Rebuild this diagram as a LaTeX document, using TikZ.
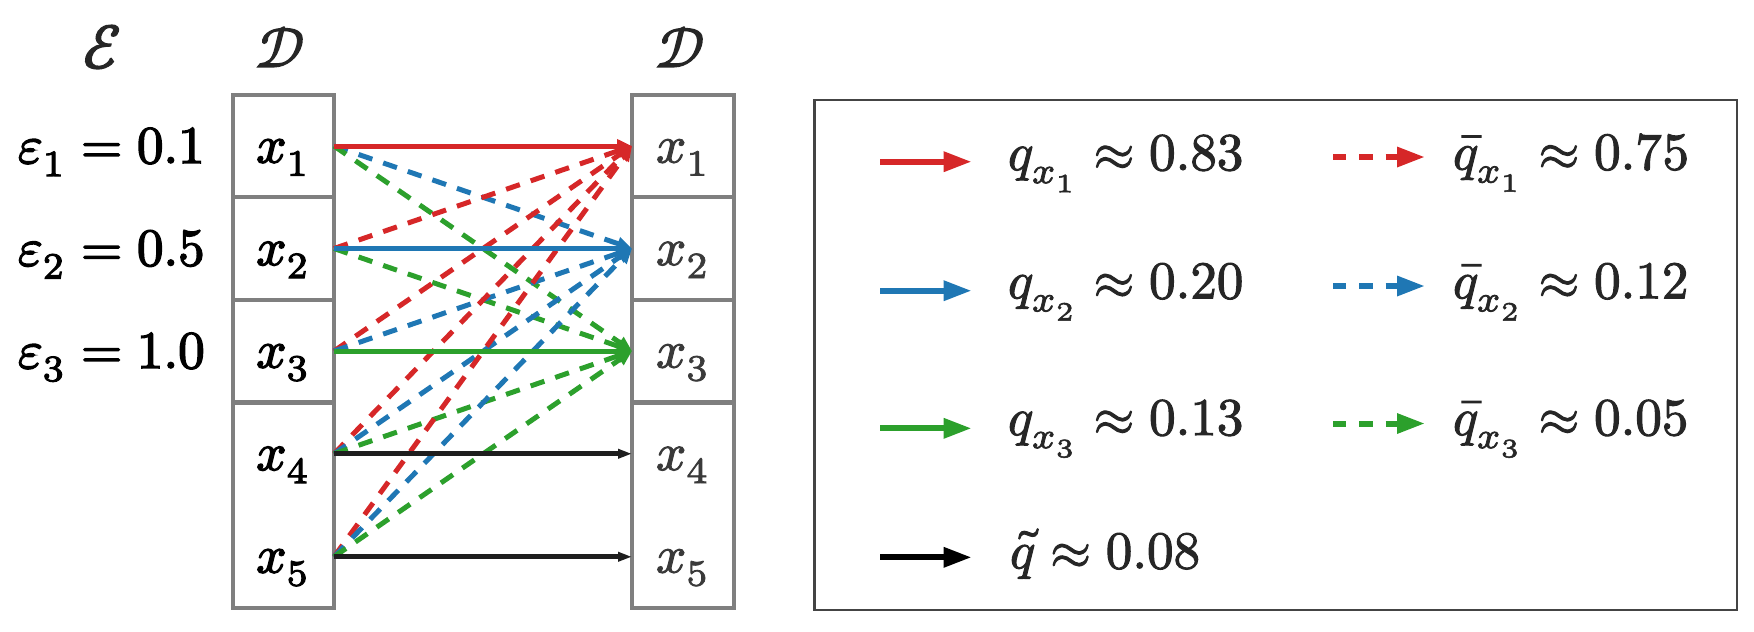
\documentclass[tikz,border=0pt]{standalone}
\usepackage{unicode-math}
\setmathfont{Latin Modern Math}[FakeBold=2.0]
\setmathfont{Latin Modern Math}[version=heavy,FakeBold=2.8]
\usetikzlibrary{arrows.meta}
\definecolor{tabred}{HTML}{D62728}
\definecolor{tabblue}{HTML}{1F77B4}
\definecolor{tabgreen}{HTML}{2CA02C}
\definecolor{boxgray}{HTML}{7F7F7F}
\definecolor{legframe}{HTML}{444444}
\definecolor{txtdark}{HTML}{262626}
\definecolor{txtmid}{HTML}{3A3A3A}
\definecolor{arrblack}{HTML}{1E1E1E}
\tikzset{
  lbl/.style={font=\fontsize{10.6pt}{13pt}\selectfont, inner sep=0pt, outer sep=0pt},
  hlbl/.style={font=\fontsize{10.6pt}{13pt}\selectfont\mathversion{heavy}, inner sep=0pt, outer sep=0pt},
  cell/.style={draw=boxgray, line width=0.8pt, inner sep=0pt, outer sep=0pt,
    minimum width=20.3pt, minimum height=20.5pt},
  cellR/.style={cell, minimum width=20.4pt},
  solidc/.style={line width=1pt, -{Triangle[length=3pt,width=2.6pt]}},
  dashc/.style={line width=1pt, dash pattern=on 2.9pt off 2.3pt, -{Triangle[length=3pt,width=2.6pt]}},
  blackc/.style={line width=1pt, draw=arrblack, -{Triangle[length=2.8pt,width=1.8pt]}},
  legsolid/.style={line width=1.2pt, -{Triangle[length=5.6pt,width=3.8pt]}},
  legdash/.style={legsolid, dash pattern=on 2.67pt off 2.6pt},
}
\begin{document}
\begin{tikzpicture}[x=0.2pt,y=-0.2pt]
\useasboundingbox (0,0) rectangle (1754,631);
% headers
\node[hlbl, text=txtdark, scale=1.15] (hE) at (102,47) {$\mathcal{E}$};
\node[hlbl, text=txtdark, scale=1.05] (hD1) at (280,47) {$\mathcal{D}$};
\node[hlbl, text=txtdark, scale=1.05] (hD2) at (680,47) {$\mathcal{D}$};
% epsilon labels
\node[hlbl, anchor=base west] (e1) at (18,163) {$\varepsilon_1 = 0.1$};
\node[hlbl, anchor=base west] (e2) at (18,265.5) {$\varepsilon_2 = 0.5$};
\node[hlbl, anchor=base west] (e3) at (18,368) {$\varepsilon_3 = 1.0$};
% left cells
\node[cell] (L1) at (283.25,146) {};
\node[cell] (L2) at (283.25,248.5) {};
\node[cell] (L3) at (283.25,351) {};
\node[cell, minimum height=41.1pt] (L45) at (283.25,505.25) {};
% right cells
\node[cellR] (R1) at (683,146) {};
\node[cellR] (R2) at (683,248.5) {};
\node[cellR] (R3) at (683,351) {};
\node[cellR, minimum height=41.1pt] (R45) at (683,505.25) {};
% cell labels
\foreach \i/\y in {1/162.5,2/265,3/367.5,4/470,5/572.5}{
  \node[hlbl, anchor=base] (lx\i) at (283.25,\y) {$x_{\i}$};
  \node[lbl, anchor=base, text=txtmid] (rx\i) at (683,\y) {$x_{\i}$};
}
% connector end points
\coordinate (s1) at (L1.east);
\coordinate (s2) at (L2.east);
\coordinate (s3) at (L3.east);
\coordinate (s4) at ([yshift=10.3pt]L45.east);
\coordinate (s5) at ([yshift=-10.3pt]L45.east);
\coordinate (t1) at (R1.west);
\coordinate (t2) at (R2.west);
\coordinate (t3) at (R3.west);
\coordinate (t4) at ([yshift=10.3pt]R45.west);
\coordinate (t5) at ([yshift=-10.3pt]R45.west);
% dashed connectors
\draw[dashc, tabblue] (s1) -- (t2);
\draw[dashc, tabgreen] (s1) -- (t3);
\draw[dashc, tabred] (s2) -- (t1);
\draw[dashc, tabgreen] (s2) -- (t3);
\draw[dashc, tabred] (s3) -- (t1);
\draw[dashc, tabblue] (s3) -- (t2);
\draw[dashc, tabred] (s4) -- (t1);
\draw[dashc, tabblue] (s4) -- (t2);
\draw[dashc, tabgreen] (s4) -- (t3);
\draw[dashc, tabred] (s5) -- (t1);
\draw[dashc, tabblue] (s5) -- (t2);
\draw[dashc, tabgreen] (s5) -- (t3);
% solid connectors
\draw[solidc, tabred] (s1) -- (t1);
\draw[solidc, tabblue] (s2) -- (t2);
\draw[solidc, tabgreen] (s3) -- (t3);
\draw[blackc] (s4) -- (t4);
\draw[blackc] (s5) -- (t5);
% legend
\draw[legframe, line width=0.55pt] (814.3,100) rectangle (1737,610);
\coordinate (la1) at (880,161.7);  \coordinate (lb1) at (971.7,161.7);
\coordinate (la2) at (880,290.7);  \coordinate (lb2) at (971.7,290.7);
\coordinate (la3) at (880,428.3);  \coordinate (lb3) at (971.7,428.3);
\coordinate (la4) at (880,557.3);  \coordinate (lb4) at (971.7,557.3);
\coordinate (ld1) at (1333,157);   \coordinate (le1) at (1425,157);
\coordinate (ld2) at (1333,286);   \coordinate (le2) at (1425,286);
\coordinate (ld3) at (1333,423.5); \coordinate (le3) at (1425,423.5);
\draw[legsolid, tabred] (la1) -- (lb1);
\draw[legsolid, tabblue] (la2) -- (lb2);
\draw[legsolid, tabgreen] (la3) -- (lb3);
\draw[legsolid, black] (la4) -- (lb4);
\draw[legdash, tabred] (ld1) -- (le1);
\draw[legdash, tabblue] (ld2) -- (le2);
\draw[legdash, tabgreen] (ld3) -- (le3);
\node[lbl, anchor=base west, text=txtdark] (q1) at (1008,170) {$q_{x_1} \approx 0.83$};
\node[lbl, anchor=base west, text=txtdark] (q2) at (1008,298.3) {$q_{x_2} \approx 0.20$};
\node[lbl, anchor=base west, text=txtdark] (q3) at (1008,435) {$q_{x_3} \approx 0.13$};
\node[lbl, anchor=base west, text=txtdark] (q4) at (1010,568.3) {$\tilde{q} \approx 0.08$};
\node[lbl, anchor=base west, text=txtdark] (b1) at (1453,169.5) {$\bar{q}_{x_1} \approx 0.75$};
\node[lbl, anchor=base west, text=txtdark] (b2) at (1453,298.3) {$\bar{q}_{x_2} \approx 0.12$};
\node[lbl, anchor=base west, text=txtdark] (b3) at (1453,435) {$\bar{q}_{x_3} \approx 0.05$};
\end{tikzpicture}
\end{document}
